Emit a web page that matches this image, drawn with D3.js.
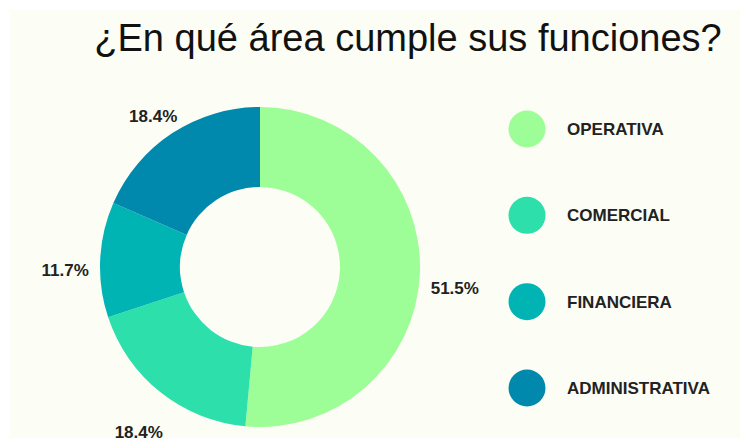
<!DOCTYPE html>
<html>
<head>
<meta charset="utf-8">
<script src="https://cdn.jsdelivr.net/npm/d3@7"></script>
<style>
  body { margin: 0; background: #ffffff; }
  svg { display: block; }
</style>
</head>
<body>
<div class="content"></div>
<script>
var width = 740, height = 438;

// data
var categories = ['OPERATIVA', 'COMERCIAL', 'FINANCIERA', 'ADMINISTRATIVA'];
var values = [53, 19, 12, 19];
var colors = ['#9dfd96', '#2ddfab', '#00b4b4', '#0088ad'];
var title = '¿En qué área cumple sus funciones?';

var svg = d3.select('.content').append('svg')
    .attr('width', width)
    .attr('height', height);

// panel background
svg.append('rect')
    .attr('x', 10)
    .attr('y', 10)
    .attr('width', width - 10)
    .attr('height', height - 10)
    .attr('fill', '#fcfdf4');

svg.append('text')
    .attr('x', 408)
    .attr('y', 51)
    .attr('text-anchor', 'middle')
    .attr('font-family', 'Liberation Sans, Arial, sans-serif')
    .attr('font-size', 38)
    .attr('fill', '#111')
    .text(title);

var cx = 260, cy = 267;
var outerR = 160, innerR = 80, labelR = 195;

var total = d3.sum(values);
var color = d3.scaleOrdinal().domain(categories).range(colors);

var pie = d3.pie().sort(null).value(function(d) { return d.value; });
var arcs = pie(categories.map(function(c, i) { return {name: c, value: values[i]}; }));

var arc = d3.arc().innerRadius(innerR).outerRadius(outerR);
var labelArc = d3.arc().innerRadius(labelR).outerRadius(labelR);

var g = svg.append('g').attr('transform', 'translate(' + cx + ',' + cy + ')');

g.selectAll('path')
    .data(arcs)
    .enter().append('path')
    .attr('d', arc)
    .attr('fill', function(d) { return color(d.data.name); });

g.selectAll('text.pct')
    .data(arcs)
    .enter().append('text')
    .attr('class', 'pct')
    .attr('transform', function(d) {
        var p = labelArc.centroid(d);
        return 'translate(' + p[0] + ',' + (p[1] + 12) + ')';
    })
    .attr('text-anchor', 'middle')
    .attr('dy', '0.35em')
    .attr('font-family', 'Liberation Sans, Arial, sans-serif')
    .attr('font-weight', 'bold')
    .attr('font-size', 17)
    .attr('fill', '#222')
    .text(function(d) { return (d.data.value / total * 100).toFixed(1) + '%'; });

// legend
var legendY = d3.scalePoint().domain(categories).range([129, 388]);

var legend = svg.selectAll('g.legend')
    .data(categories)
    .enter().append('g')
    .attr('class', 'legend')
    .attr('transform', function(d) { return 'translate(527,' + legendY(d) + ')'; });

legend.append('circle')
    .attr('r', 18.5)
    .attr('fill', function(d) { return color(d); });

legend.append('text')
    .attr('x', 40)
    .attr('dy', '0.35em')
    .attr('font-family', 'Liberation Sans, Arial, sans-serif')
    .attr('font-weight', 'bold')
    .attr('font-size', 17)
    .attr('fill', '#222')
    .text(function(d) { return d; });
</script>
</body>
</html>
